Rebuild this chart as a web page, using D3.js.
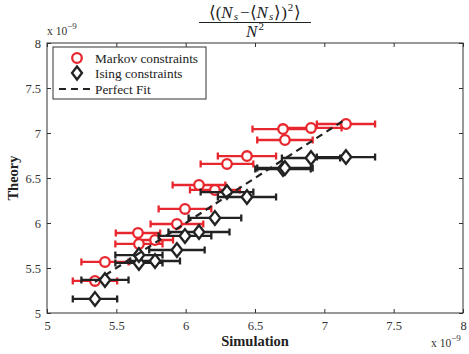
<!DOCTYPE html>
<html>
<head>
  <script src="https://d3js.org/d3.v7.min.js"></script>
  <style>
    body { margin: 0; padding: 0; background: white; overflow: hidden; }
    svg { display: block; }
  </style>
</head>
<body>
  <svg width="469" height="354"></svg>
  <script>
    // values in units of 1e-9
    const markovSim    = [5.346, 5.418, 5.656, 5.663, 5.779, 5.937, 5.995, 6.096, 6.211, 6.298, 6.442, 6.702, 6.716, 6.904, 7.156];
    const markovTheory = [5.356, 5.567, 5.889, 5.767, 5.811, 5.989, 6.156, 6.422, 6.367, 6.656, 6.744, 7.044, 6.922, 7.056, 7.100];
    const markovErr    = [0.16, 0.17, 0.16, 0.17, 0.13, 0.19, 0.19, 0.19, 0.18, 0.19, 0.21, 0.22, 0.20, 0.22, 0.21];

    const isingSim     = [5.346, 5.418, 5.663, 5.779, 5.663, 5.937, 5.995, 6.096, 6.211, 6.298, 6.442, 6.702, 6.716, 6.904, 7.156];
    const isingTheory  = [5.156, 5.367, 5.556, 5.578, 5.644, 5.700, 5.856, 5.900, 6.056, 6.344, 6.289, 6.600, 6.611, 6.722, 6.733];
    const isingErr     = [0.16, 0.17, 0.17, 0.18, 0.17, 0.20, 0.19, 0.22, 0.19, 0.19, 0.21, 0.20, 0.20, 0.21, 0.21];

    const xTicks = [5, 5.5, 6, 6.5, 7, 7.5, 8];
    const yTicks = [5, 5.5, 6, 6.5, 7, 7.5, 8];
    const legendLabels = ["Markov constraints", "Ising constraints", "Perfect Fit"];

    const red = "#e8262d", black = "#222";
    const serif = "Liberation Serif, Times New Roman, serif";

    const svg = d3.select("svg"),
          margin = { top: 43, right: 6, bottom: 41, left: 47 },
          width = 469 - margin.left - margin.right,
          height = 354 - margin.top - margin.bottom,
          g = svg.append("g").attr("transform", "translate(" + margin.left + "," + margin.top + ")");

    const x = d3.scaleLinear().domain([5, 8]).range([0, width]);
    const y = d3.scaleLinear().domain([5, 8]).range([height, 0]);

    // axes with inward ticks, boxed
    const axisStyle = sel => {
      sel.select(".domain").remove();
      sel.selectAll(".tick line").attr("stroke", "#333");
      sel.selectAll("text").attr("font-family", serif).attr("font-size", "12.5px").attr("fill", "#333");
    };
    g.append("g").attr("transform", "translate(0," + height + ")")
      .call(d3.axisBottom(x).tickValues(xTicks).tickFormat(d3.format("")).tickSize(-4).tickPadding(8))
      .call(axisStyle);
    g.append("g")
      .call(d3.axisLeft(y).tickValues(yTicks).tickFormat(d3.format("")).tickSize(-4).tickPadding(6))
      .call(axisStyle);
    g.append("g")
      .call(d3.axisTop(x).tickValues(xTicks).tickFormat("").tickSize(-4)).call(axisStyle);
    g.append("g").attr("transform", "translate(" + width + ",0)")
      .call(d3.axisRight(y).tickValues(yTicks).tickFormat("").tickSize(-4)).call(axisStyle);
    g.append("rect").attr("width", width).attr("height", height)
      .attr("fill", "none").attr("stroke", "#333").attr("stroke-width", 1);

    function drawSeries(sim, theory, err, color, marker) {
      const pts = sim.map((s, i) => ({ s, t: theory[i], e: err[i] }));
      const eg = g.append("g").attr("stroke", color).attr("stroke-width", 2.3).attr("fill", "none");
      pts.forEach(d => {
        const yy = y(d.t), x0 = x(d.s - d.e), x1 = x(d.s + d.e);
        eg.append("line").attr("x1", x0).attr("x2", x1).attr("y1", yy).attr("y2", yy);
        eg.append("line").attr("x1", x0).attr("x2", x0).attr("y1", yy - 3.5).attr("y2", yy + 3.5);
        eg.append("line").attr("x1", x1).attr("x2", x1).attr("y1", yy - 3.5).attr("y2", yy + 3.5);
      });
      const mg = g.append("g");
      if (marker === "circle") {
        mg.selectAll("circle").data(pts).enter().append("circle")
          .attr("cx", d => x(d.s)).attr("cy", d => y(d.t)).attr("r", 4.8)
          .attr("fill", "white").attr("stroke", color).attr("stroke-width", 2.3);
      } else {
        mg.selectAll("path").data(pts).enter().append("path")
          .attr("d", d => { const cx = x(d.s), cy = y(d.t);
            return `M${cx},${cy - 6.8}L${cx + 5.3},${cy}L${cx},${cy + 6.8}L${cx - 5.3},${cy}Z`; })
          .attr("fill", "white").attr("stroke", color).attr("stroke-width", 2.3);
      }
    }
    drawSeries(markovSim, markovTheory, markovErr, red, "circle");
    drawSeries(isingSim, isingTheory, isingErr, black, "diamond");

    // perfect fit line
    const lo = d3.min(markovSim), hi = d3.max(markovSim);
    g.append("line")
      .attr("x1", x(lo)).attr("y1", y(lo)).attr("x2", x(hi)).attr("y2", y(hi))
      .attr("stroke", black).attr("stroke-width", 2.2).attr("stroke-dasharray", "7,5");

    // legend
    const lg = svg.append("g").attr("transform", "translate(53,47)");
    lg.append("rect").attr("width", 153).attr("height", 52)
      .attr("fill", "white").attr("stroke", "#333").attr("stroke-width", 1);
    const rowY = [11, 26, 42];
    lg.append("circle").attr("cx", 24).attr("cy", rowY[0]).attr("r", 4.8)
      .attr("fill", "white").attr("stroke", red).attr("stroke-width", 2.3);
    lg.append("path").attr("d", `M24,${rowY[1] - 6.5}L29,${rowY[1]}L24,${rowY[1] + 6.5}L19,${rowY[1]}Z`)
      .attr("fill", "white").attr("stroke", black).attr("stroke-width", 2.3);
    lg.append("line").attr("x1", 6).attr("x2", 40).attr("y1", rowY[2]).attr("y2", rowY[2])
      .attr("stroke", black).attr("stroke-width", 2.2).attr("stroke-dasharray", "7,5");
    lg.selectAll(".lbl").data(legendLabels).enter().append("text")
      .attr("x", 42).attr("y", (d, i) => rowY[i] + 4.5)
      .attr("font-family", serif).attr("font-size", "13.3px").attr("fill", "#222")
      .text(d => d);

    // axis labels
    svg.append("text").attr("x", margin.left + width / 2).attr("y", 346)
      .attr("text-anchor", "middle").attr("font-family", serif).attr("font-weight", "bold")
      .attr("font-size", "14.5px").attr("fill", "#222").text("Simulation");
    svg.append("text").attr("transform", "translate(18," + (margin.top + height / 2) + ") rotate(-90)")
      .attr("text-anchor", "middle").attr("font-family", serif).attr("font-weight", "bold")
      .attr("font-size", "14.5px").attr("fill", "#222").text("Theory");

    // exponent labels
    function expLabel(px, py) {
      const t = svg.append("text").attr("x", px).attr("y", py)
        .attr("font-family", serif).attr("font-size", "11.5px").attr("fill", "#333");
      t.append("tspan").text("x 10");
      t.append("tspan").attr("dy", -6).attr("font-size", "9px").text("\u22129");
    }
    expLabel(47, 35);
    expLabel(431, 347);

    // title: fraction
    const cx = margin.left + width / 2;
    const num = svg.append("text").attr("x", cx).attr("y", 17.5).attr("text-anchor", "middle")
      .attr("font-family", serif).attr("font-size", "17px").attr("fill", "#222");
    num.append("tspan").text("\u27E8(");
    num.append("tspan").attr("font-style", "italic").text("N");
    num.append("tspan").attr("font-style", "italic").attr("font-size", "11px").attr("dx", 1).attr("dy", 2.5).text("s");
    num.append("tspan").attr("dx", 2).attr("dy", -2.5).text("\u2212\u27E8");
    num.append("tspan").attr("font-style", "italic").text("N");
    num.append("tspan").attr("font-style", "italic").attr("font-size", "11px").attr("dx", 1).attr("dy", 2.5).text("s");
    num.append("tspan").attr("dx", 1).attr("dy", -2.5).text("\u27E9)");
    num.append("tspan").attr("font-size", "11px").attr("dx", 1).attr("dy", -7).text("2");
    num.append("tspan").attr("dx", 1).attr("dy", 7).text("\u27E9");
    svg.append("line").attr("x1", cx - 56).attr("x2", cx + 56).attr("y1", 22.5).attr("y2", 22.5)
      .attr("stroke", "#222").attr("stroke-width", 1);
    const den = svg.append("text").attr("x", cx).attr("y", 37).attr("text-anchor", "middle")
      .attr("font-family", serif).attr("font-size", "17px").attr("fill", "#222");
    den.append("tspan").attr("font-style", "italic").text("N");
    den.append("tspan").attr("font-size", "11px").attr("dx", 1).attr("dy", -7).text("2");
  </script>
</body>
</html>
